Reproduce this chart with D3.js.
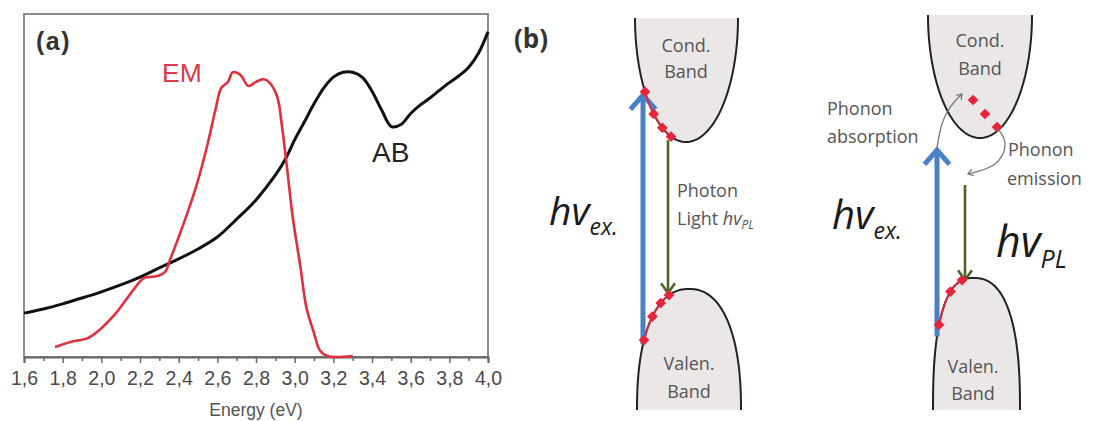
<!DOCTYPE html>
<html>
<head>
<meta charset="utf-8">
<script src="https://cdn.jsdelivr.net/npm/d3@7"></script>
<style>
  html, body { margin: 0; padding: 0; background: #fff; }
  svg { display: block; }
</style>
</head>
<body>
<svg id="fig" width="1097" height="421"></svg>
<script>
// ---------- Panel (a): absorption (AB) and emission (EM) spectra ----------
const abEnergy = [1.6, 1.7, 1.8, 1.9, 2.0, 2.1, 2.2, 2.3, 2.4, 2.5, 2.6, 2.7, 2.8, 2.9, 2.95,
  3.0, 3.05, 3.1, 3.15, 3.2, 3.25, 3.3, 3.35, 3.4, 3.45, 3.5, 3.55, 3.6, 3.65, 3.7, 3.75,
  3.8, 3.85, 3.9, 3.95, 4.0];
const abIntensity = [12.8, 14.0, 15.5, 17.2, 19.0, 21.0, 23.3, 26.0, 28.6, 31.5, 35.0, 40.2,
  45.8, 53.0, 57.5, 63.3, 68.5, 73.8, 78.4, 81.6, 83.0, 83.0, 81.5, 77.5, 72.0, 67.2, 67.8,
  71.0, 73.5, 75.5, 77.8, 80.0, 82.0, 84.5, 88.5, 94.8];

const emEnergy = [1.76, 1.84, 1.93, 1.99, 2.08, 2.165, 2.22, 2.29, 2.33, 2.355, 2.42, 2.49,
  2.545, 2.59, 2.62, 2.655, 2.68, 2.72, 2.76, 2.80, 2.84, 2.87, 2.91, 2.935, 2.96, 2.99,
  3.03, 3.06, 3.10, 3.13, 3.17, 3.30];
const emIntensity = [2.9, 4.4, 5.5, 7.9, 13.1, 19.5, 23.0, 23.6, 24.8, 28.3, 38.0, 49.6,
  61.0, 72.0, 78.4, 80.2, 83.0, 82.2, 79.0, 80.2, 81.0, 80.0, 75.8, 67.0, 55.4, 40.8,
  26.2, 14.6, 7.0, 2.0, 0.3, 0.3];

const xMajorTicks = [1.6, 1.8, 2.0, 2.2, 2.4, 2.6, 2.8, 3.0, 3.2, 3.4, 3.6, 3.8, 4.0];
const xMinorTicks = [1.7, 1.9, 2.1, 2.3, 2.5, 2.7, 2.9, 3.1, 3.3, 3.5, 3.7, 3.9];
const xTickLabels = ["1,6", "1,8", "2,0", "2,2", "2,4", "2,6", "2,8", "3,0", "3,2", "3,4",
  "3,6", "3,8", "4,0"];
const xAxisTitle = "Energy (eV)";
const panelLabels = ["(a)", "(b)"];
const seriesLabels = ["EM", "AB"];

// ---------- Panel (b): band diagrams ----------
const condLabel = ["Cond.", "Band"];
const valenLabel = ["Valen.", "Band"];
const photonLabel = ["Photon", "Light "];
const phononAbsLabel = ["Phonon", "absorption"];
const phononEmiLabel = ["Phonon", "emission"];
const hvSymbol = "hv";
const exSub = "ex.";
const plSub = "PL";

const svg = d3.select("#fig");
const sans = "Arial, 'Liberation Sans', sans-serif";
const diaFont = "'Open Sans', 'Noto Sans', sans-serif";

// plot frame
const frame = { left: 24, right: 488, top: 14, bottom: 357 };
const x = d3.scaleLinear().domain([1.6, 4.0]).range([frame.left, frame.right]);
const y = d3.scaleLinear().domain([0, 100]).range([frame.bottom, frame.top]);

svg.append("rect")
  .attr("x", frame.left).attr("y", frame.top)
  .attr("width", frame.right - frame.left).attr("height", frame.bottom - frame.top)
  .attr("fill", "none").attr("stroke", "#8c8c8c").attr("stroke-width", 2);

// x axis: major ticks with labels, minor ticks without
const axisMajor = d3.axisBottom(x).tickValues(xMajorTicks).tickSize(6).tickPadding(8)
  .tickFormat((d, i) => xTickLabels[i]);
const gMajor = svg.append("g").attr("transform", `translate(0,${frame.bottom})`).call(axisMajor);
gMajor.select(".domain").attr("stroke", "#666").attr("stroke-width", 2);
gMajor.selectAll(".tick line").attr("stroke", "#666").attr("stroke-width", 1.5);
gMajor.selectAll(".tick text")
  .attr("font-family", sans).attr("font-size", 19.5).attr("fill", "#4a4a4a");

const axisMinor = d3.axisBottom(x).tickValues(xMinorTicks).tickSize(4).tickFormat("");
const gMinor = svg.append("g").attr("transform", `translate(0,${frame.bottom})`).call(axisMinor);
gMinor.select(".domain").remove();
gMinor.selectAll(".tick line").attr("stroke", "#666").attr("stroke-width", 1.5);

svg.append("text")
  .attr("x", (frame.left + frame.right) / 2).attr("y", 416)
  .attr("text-anchor", "middle").attr("font-family", sans).attr("font-size", 17.5)
  .attr("fill", "#555").text(xAxisTitle);

// spectra
const line = d3.line().x(d => x(d[0])).y(d => y(d[1])).curve(d3.curveCatmullRom.alpha(0.5));
const abData = abEnergy.map((e, i) => [e, abIntensity[i]]);
const emData = emEnergy.map((e, i) => [e, emIntensity[i]]);

svg.append("path").datum(abData).attr("d", line)
  .attr("fill", "none").attr("stroke", "#111").attr("stroke-width", 3)
  .attr("stroke-linejoin", "round");
svg.append("path").datum(emData).attr("d", line)
  .attr("fill", "none").attr("stroke", "#e0303d").attr("stroke-width", 2.6)
  .attr("stroke-linejoin", "round");

svg.append("text").attr("x", 36).attr("y", 50)
  .attr("font-family", sans).attr("font-weight", "bold").attr("font-size", 25)
  .attr("letter-spacing", 1.5).attr("fill", "#333").text(panelLabels[0]);
svg.append("text").attr("x", 162).attr("y", 82)
  .attr("font-family", sans).attr("font-size", 26.5).attr("fill", "#dd3b47").text(seriesLabels[0]);
svg.append("text").attr("x", 372).attr("y", 162)
  .attr("font-family", sans).attr("font-size", 28).attr("fill", "#222").text(seriesLabels[1]);

// ---------- band diagram helpers ----------
// superellipse band edge; dir = -1 opens upward (conduction), +1 opens downward (valence)
function bandPoints(b, n = 90) {
  const pts = [];
  for (let i = 0; i <= n; i++) {
    const th = -Math.PI / 2 + Math.PI * i / n;
    const s = Math.sin(th), c = Math.cos(th);
    const w = s < 0 ? b.wL : b.wR;
    const px = b.cx + w * Math.sign(s) * Math.pow(Math.abs(s), 2 / b.p);
    const dy = b.depth * (1 - Math.pow(Math.abs(c), 2 / b.p));
    pts.push([px, b.apex + b.dir * dy]);
  }
  return pts;
}
function bandY(b, px) {
  const w = px < b.cx ? b.wL : b.wR;
  const r = Math.min(1, Math.abs(px - b.cx) / w);
  const dy = b.depth * (1 - Math.pow(1 - Math.pow(r, b.p), 1 / b.p));
  return b.apex + b.dir * dy;
}
const pathLine = d3.line();
const smooth = d3.line().curve(d3.curveBasis);

function drawBand(g, b, labels, labelY) {
  const pts = bandPoints(b);
  g.append("path").attr("d", pathLine(pts) + "Z").attr("fill", "#ebe7e7").attr("stroke", "none");
  g.append("path").attr("d", pathLine(pts)).attr("fill", "none")
    .attr("stroke", "#222").attr("stroke-width", 2);
  labels.forEach((t, i) => {
    g.append("text").attr("x", b.cx).attr("y", labelY[i]).attr("text-anchor", "middle")
      .attr("font-family", diaFont).attr("font-size", 18).attr("fill", "#555").text(t);
  });
}

function chevron(tip, angle, len, spread) {
  const a1 = angle + Math.PI - spread, a2 = angle + Math.PI + spread;
  return pathLine([
    [tip[0] + len * Math.cos(a1), tip[1] + len * Math.sin(a1)],
    tip,
    [tip[0] + len * Math.cos(a2), tip[1] + len * Math.sin(a2)]
  ]);
}

function straightArrow(g, px, y1, y2, color, width, headLen, spread) {
  g.append("line").attr("x1", px).attr("x2", px).attr("y1", y1).attr("y2", y2 + (y2 < y1 ? 2 : -2))
    .attr("stroke", color).attr("stroke-width", width);
  const ang = y2 < y1 ? -Math.PI / 2 : Math.PI / 2;
  g.append("path").attr("d", chevron([px, y2], ang, headLen, spread))
    .attr("fill", "none").attr("stroke", color).attr("stroke-width", width)
    .attr("stroke-linejoin", "miter").attr("stroke-linecap", "butt");
}

function carrierDots(g, pts, withLine, nDots) {
  if (withLine) {
    g.append("path").attr("d", pathLine(pts)).attr("fill", "none")
      .attr("stroke", "#e8283a").attr("stroke-width", 1.6);
  }
  const step = (pts.length - 1) / (nDots - 1);
  d3.range(nDots).map(k => pts[Math.round(k * step)]).forEach(p => {
    g.append("rect").attr("x", -3.8).attr("y", -3.8).attr("width", 7.6).attr("height", 7.6)
      .attr("transform", `translate(${p[0]},${p[1]}) rotate(45)`)
      .attr("fill", "#e6243a");
  });
}

function alongBand(b, x1, x2, n = 12) {
  return d3.range(n + 1).map(i => {
    const px = x1 + (x2 - x1) * i / n;
    return [px, bandY(b, px)];
  });
}

function hvText(g, px, py, size, sub, subSize, subDy) {
  const t = g.append("text").attr("x", px).attr("y", py)
    .attr("font-family", diaFont).attr("font-style", "italic").attr("fill", "#1a1a1a");
  t.append("tspan").attr("font-size", size).text(hvSymbol);
  t.append("tspan").attr("font-size", subSize).attr("dy", subDy).text(sub);
}

const blue = "#4a80c4", olive = "#4f6228";
const gb = svg.append("g");

gb.append("text").attr("x", 514).attr("y", 48)
  .attr("font-family", diaFont).attr("font-weight", "bold").attr("font-size", 26)
  .attr("fill", "#333").text(panelLabels[1]);

// ----- left diagram: direct radiative recombination -----
const condL = { cx: 686, apex: 142, depth: 124, wL: 51, wR: 52, p: 2, dir: -1 };
const valL = { cx: 689, apex: 289, depth: 121, wL: 52, wR: 52, p: 2.3, dir: 1 };
drawBand(gb, condL, condLabel, [52, 78]);
drawBand(gb, valL, valenLabel, [370, 398]);

straightArrow(gb, 643, bandY(valL, 643), 95, blue, 5, 19, 0.72);
straightArrow(gb, 668, 140, 293, olive, 2.6, 12, 0.62);
carrierDots(gb, alongBand(condL, 645, 671), true, 4);
carrierDots(gb, alongBand(valL, 644, 669), true, 4);

gb.append("text").attr("x", 677).attr("y", 197)
  .attr("font-family", diaFont).attr("font-size", 18).attr("fill", "#555").text(photonLabel[0]);
const lt = gb.append("text").attr("x", 677).attr("y", 225)
  .attr("font-family", diaFont).attr("font-size", 18).attr("fill", "#555");
lt.append("tspan").text(photonLabel[1]);
lt.append("tspan").attr("font-style", "italic").text(hvSymbol);
lt.append("tspan").attr("font-style", "italic").attr("font-size", 12).attr("dy", 4).text(plSub);

hvText(gb, 549, 225, 39, exSub, 23, 10);

// ----- right diagram: phonon-assisted recombination -----
const condR = { cx: 980, apex: 138, depth: 123, wL: 52, wR: 52, p: 2, dir: -1 };
const valR = { cx: 973, apex: 278, depth: 132, wL: 40, wR: 47, p: 2.5, dir: 1 };
drawBand(gb, condR, condLabel, [47, 75]);
drawBand(gb, valR, valenLabel, [373, 400]);

straightArrow(gb, 937, bandY(valR, 937), 150, blue, 5, 19, 0.72);
straightArrow(gb, 965, 185, 280, olive, 2.6, 12, 0.62);
carrierDots(gb, [[973, 100], [985, 114], [997, 127]], false, 3);
carrierDots(gb, alongBand(valR, 939, 962), true, 3);

// phonon absorption / emission curved arrows
const absPts = [[937, 148], [940, 128], [948, 108], [962, 94]];
gb.append("path").attr("d", smooth(absPts)).attr("fill", "none")
  .attr("stroke", "#777").attr("stroke-width", 1.3);
gb.append("path").attr("d", chevron([962, 94], Math.atan2(94 - 104, 962 - 953), 6, 0.6))
  .attr("fill", "none").attr("stroke", "#777").attr("stroke-width", 1.3);

const emiPts = [[998, 129], [1008, 142], [1000, 163], [984, 170], [968, 174]];
gb.append("path").attr("d", smooth(emiPts)).attr("fill", "none")
  .attr("stroke", "#777").attr("stroke-width", 1.3);
gb.append("path").attr("d", chevron([968, 174], Math.atan2(174 - 170, 968 - 980), 6, 0.6))
  .attr("fill", "none").attr("stroke", "#777").attr("stroke-width", 1.3);

[[827, 115, phononAbsLabel[0]], [827, 143, phononAbsLabel[1]],
 [1008, 156, phononEmiLabel[0]], [1007, 185, phononEmiLabel[1]]].forEach(d => {
  gb.append("text").attr("x", d[0]).attr("y", d[1])
    .attr("font-family", diaFont).attr("font-size", 18).attr("fill", "#555").text(d[2]);
});

hvText(gb, 832, 229, 40, exSub, 23, 10);
hvText(gb, 996, 257, 43, plSub, 25, 11);
</script>
</body>
</html>
